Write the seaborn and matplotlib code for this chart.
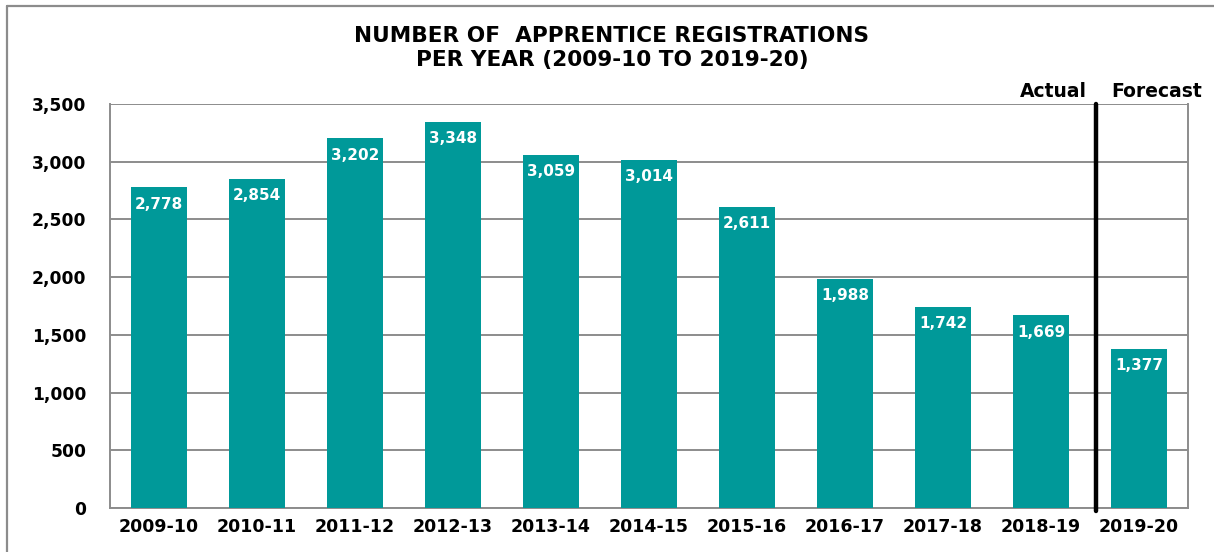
import matplotlib
matplotlib.use("Agg")
import matplotlib.pyplot as plt
import seaborn as sns
import pandas as pd
from matplotlib.lines import Line2D

years = ["2009-10", "2010-11", "2011-12", "2012-13", "2013-14", "2014-15",
         "2015-16", "2016-17", "2017-18", "2018-19", "2019-20"]
registrations = [2778, 2854, 3202, 3348, 3059, 3014, 2611, 1988, 1742, 1669, 1377]
yticks = [0, 500, 1000, 1500, 2000, 2500, 3000, 3500]

sns.set_theme(style="white")
plt.rcParams['font.family'] = ['DejaVu Sans']
plt.rcParams['text.color'] = 'black'
plt.rcParams['xtick.color'] = 'black'
plt.rcParams['ytick.color'] = 'black'

df = pd.DataFrame({"year": years, "value": registrations})

fig = plt.figure(figsize=(12.14, 5.52), dpi=100)
ax = fig.add_axes([110/1214, 44/552, (1188-110)/1214, (508-104)/552])

sns.barplot(data=df, x="year", y="value", color="#009999", saturation=1,
            width=0.58, ax=ax, zorder=3, linewidth=0)

ax.set_xlim(-0.5, 10.5)
ax.set_ylim(0, 3500)
ax.set_yticks(yticks)
ax.set_yticklabels([f"{v:,}" for v in yticks], fontsize=12.3, fontweight="bold")
ax.set_xticklabels(years, fontsize=12.5, fontweight="bold")
ax.set_xlabel("")
ax.set_ylabel("")
ax.tick_params(axis="x", length=0, pad=7)
ax.tick_params(axis="y", length=0, pad=17)
ax.yaxis.grid(True, color="#8c8c8c", linewidth=1.4, zorder=0)
for s in ["left", "bottom", "right"]:
    ax.spines[s].set_visible(True)
    ax.spines[s].set_color("#8c8c8c")
    ax.spines[s].set_linewidth(1.4)
ax.spines["top"].set_visible(False)

for i, v in enumerate(registrations):
    ax.annotate(f"{v:,}", xy=(i, v), xytext=(0, -12), textcoords="offset points",
                ha="center", va="center", color="white", fontsize=11,
                fontweight="bold", zorder=5)

ax.axvline(9.56, ymin=-0.008, ymax=1.0, color="black", linewidth=3.2,
           clip_on=False, zorder=6)

ax.text(9.47, 3530, "Actual", ha="right", va="bottom", fontsize=13.5,
        fontweight="bold", transform=ax.transData)
ax.text(9.72, 3530, "Forecast", ha="left", va="bottom", fontsize=13.5,
        fontweight="bold", transform=ax.transData)

fig.text(612/1214, 1 - 48/552, "NUMBER OF  APPRENTICE REGISTRATIONS\nPER YEAR (2009-10 TO 2019-20)",
         ha="center", va="center", fontsize=15.6, fontweight="bold",
         linespacing=1.3)

# outer frame
fig.add_artist(Line2D([7/1214, 7/1214], [0, 1 - 6/552], transform=fig.transFigure,
                      color="#8c8c8c", linewidth=1.6))
fig.add_artist(Line2D([7/1214, 1], [1 - 6/552, 1 - 6/552], transform=fig.transFigure,
                      color="#8c8c8c", linewidth=1.6))

fig.savefig("out.png", dpi=100)
